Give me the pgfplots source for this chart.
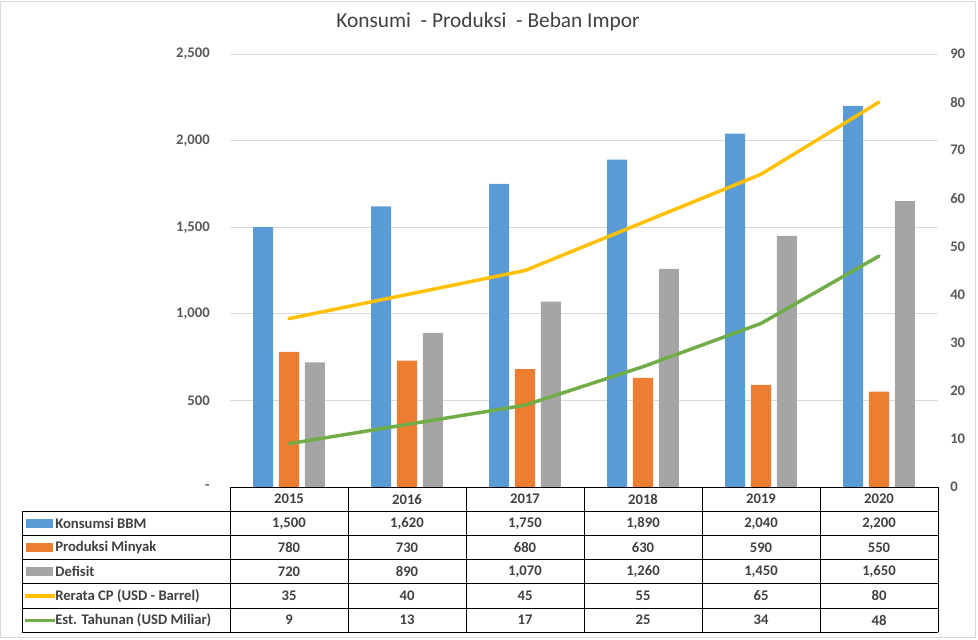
\documentclass[border=0pt]{standalone}
\usepackage{pgfplots}
\usepackage{pgfplotstable}
\pgfplotsset{compat=1.18}
\usepackage{fontspec}
\setmainfont{Carlito}

\definecolor{cblue}{HTML}{5B9BD5}
\definecolor{corange}{HTML}{ED7D31}
\definecolor{cgray}{HTML}{A5A5A5}
\definecolor{cyellow}{HTML}{FFC000}
\definecolor{cgreen}{HTML}{70AD47}
\definecolor{gridc}{HTML}{D9D9D9}
\definecolor{txt}{HTML}{595959}
\definecolor{tabtxt}{HTML}{404040}

% x = category index (2015..2020)
\pgfplotstableread{
x year kons prod def cp est
0 2015 1500 780 720 35 9
1 2016 1620 730 890 40 13
2 2017 1750 680 1070 45 17
3 2018 1890 630 1260 55 25
4 2019 2040 590 1450 65 34
5 2020 2200 550 1650 80 48
}\data

\begin{document}
\begin{tikzpicture}
% frame, 1px = 0.75pt, y downwards
\begin{scope}[x=0.75pt,y=-0.75pt]
\useasboundingbox (0,0) rectangle (978,639);
\draw[gridc,line width=0.75pt] (0.5,1.5) rectangle (975.5,637);
\node[font=\fontsize{16}{18}\selectfont,text=tabtxt] at (488,22) {Konsumi \ - Produksi \ - Beban Impor};
\end{scope}

\begin{axis}[at={(172.5pt,-365.25pt)},anchor=south west,
  scale only axis,width=531pt,height=324.75pt,
  xmin=-0.5,xmax=5.5,ymin=0,ymax=2500,
  hide x axis,
  axis y line*=left,
  y axis line style={draw=none},
  major tick length=0pt,
  ytick={0,500,...,2500},
  yticklabels={-,500,{1,000},{1,500},{2,000},{2,500}},
  yticklabel style={font=\bfseries\fontsize{11}{13}\selectfont,text=txt,inner sep=0pt,xshift=-15pt},
  ymajorgrids,grid style={gridc,line width=0.75pt},
  clip=false]
\addplot[ybar,bar width=0.17,bar shift=-0.22,fill=cblue,draw=none] table[x=x,y=kons] {\data};
\addplot[ybar,bar width=0.17,bar shift=0,fill=corange,draw=none] table[x=x,y=prod] {\data};
\addplot[ybar,bar width=0.17,bar shift=0.22,fill=cgray,draw=none] table[x=x,y=def] {\data};
\end{axis}

\begin{axis}[at={(172.5pt,-365.25pt)},anchor=south west,
  scale only axis,width=531pt,height=324.75pt,
  xmin=-0.5,xmax=5.5,ymin=0,ymax=90,
  hide x axis,
  axis y line*=right,
  y axis line style={draw=none},
  major tick length=0pt,
  ytick={0,10,...,90},
  yticklabel style={font=\bfseries\fontsize{11}{13}\selectfont,text=txt,inner sep=0pt,xshift=9pt},
  /pgf/number format/assume math mode=true,
  clip=false]
\addplot[cyellow,line width=2.6pt,line cap=round,line join=round] table[x=x,y=cp] {\data};
\addplot[cgreen,line width=2.6pt,line cap=round,line join=round] table[x=x,y=est] {\data};
\end{axis}

% data table below the chart
\begin{scope}[x=0.75pt,y=-0.75pt,font=\bfseries\fontsize{11}{13}\selectfont,text=tabtxt]
\draw[black,line width=0.75pt] (230,487) -- (938,487);
\foreach \yy in {511.2,535.4,559.6,583.8,608,632.2} \draw[black,line width=0.75pt] (22,\yy) -- (938,\yy);
\draw[black,line width=0.75pt] (22,511.2) -- (22,632.2);
\foreach \k in {0,...,6} \draw[black,line width=0.75pt] (230+118*\k,487) -- (230+118*\k,632.2);
\foreach \t [count=\i from 0] in {2015,2016,2017,2018,2019,2020}
  \node at (289+118*\i,499.1) {\t};
\foreach \t [count=\i from 0] in {{1,500},{1,620},{1,750},{1,890},{2,040},{2,200}}
  \node at (289+118*\i,523.3) {\t};
\foreach \t [count=\i from 0] in {780,730,680,630,590,550}
  \node at (289+118*\i,547.5) {\t};
\foreach \t [count=\i from 0] in {720,890,{1,070},{1,260},{1,450},{1,650}}
  \node at (289+118*\i,571.7) {\t};
\foreach \t [count=\i from 0] in {35,40,45,55,65,80}
  \node at (289+118*\i,595.9) {\t};
\foreach \t [count=\i from 0] in {9,13,17,25,34,48}
  \node at (289+118*\i,620.1) {\t};
% legend keys
\fill[cblue] (26,518.8) rectangle (53,527.8);
\fill[corange] (26,543) rectangle (53,552);
\fill[cgray] (26,567.2) rectangle (53,576.2);
\draw[cyellow,line width=2.4pt] (25,595.9) -- (55,595.9);
\draw[cgreen,line width=2.4pt] (25,620.1) -- (55,620.1);
\node[anchor=west,inner sep=0pt] at (55,523.3) {Konsumsi BBM};
\node[anchor=west,inner sep=0pt] at (55,547.5) {Produksi Minyak};
\node[anchor=west,inner sep=0pt] at (55,571.7) {Defisit};
\node[anchor=west,inner sep=0pt] at (55,595.9) {Rerata CP (USD - Barrel)};
\node[anchor=west,inner sep=0pt] at (55,620.1) {Est. Tahunan (USD Miliar)};
\end{scope}
\end{tikzpicture}
\end{document}
